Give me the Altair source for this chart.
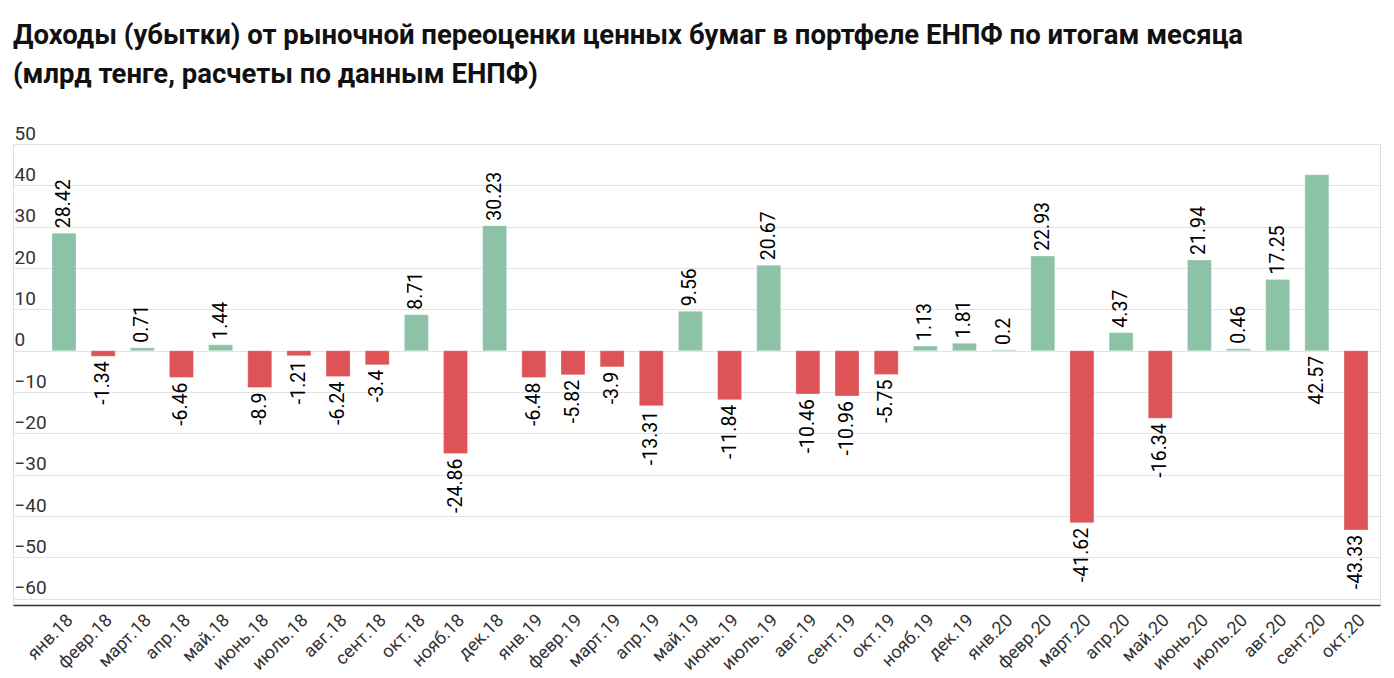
import altair as alt
import pandas as pd

months = ["янв.18", "февр.18", "март.18", "апр.18", "май.18", "июнь.18", "июль.18",
          "авг.18", "сент.18", "окт.18", "нояб.18", "дек.18",
          "янв.19", "февр.19", "март.19", "апр.19", "май.19", "июнь.19", "июль.19",
          "авг.19", "сент.19", "окт.19", "нояб.19", "дек.19",
          "янв.20", "февр.20", "март.20", "апр.20", "май.20", "июнь.20", "июль.20",
          "авг.20", "сент.20", "окт.20"]
values = [28.42, -1.34, 0.71, -6.46, 1.44, -8.9, -1.21, -6.24, -3.4, 8.71, -24.86, 30.23,
          -6.48, -5.82, -3.9, -13.31, 9.56, -11.84, 20.67, -10.46, -10.96, -5.75, 1.13, 1.81,
          0.2, 22.93, -41.62, 4.37, -16.34, 21.94, 0.46, 17.25, 42.57, -43.33]
y_ticks = [50, 40, 30, 20, 10, 0, -10, -20, -30, -40, -50, -60]

title_lines = ["Доходы (убытки) от рыночной переоценки ценных бумаг в портфеле ЕНПФ по итогам месяца",
               "(млрд тенге, расчеты по данным ЕНПФ)"]

GREEN = "#8cc3a7"
RED = "#dd5356"
Y_MAX = 50
Y_MIN = -61.5

df = pd.DataFrame({"month": months, "value": values})
df["label"] = [str(v) for v in values]
# labels that would not fit above the bar within the axis go below the baseline
fits_above = (df["value"] > 0) & (df["value"] + 12 <= Y_MAX)
df["side"] = ["up" if f else "down" for f in fits_above]
df["lab_y"] = [v if (v < 0 or f) else 0 for v, f in zip(df["value"], fits_above)]

x_enc = alt.X(
    "month:N", sort=months, title=None,
    scale=alt.Scale(paddingInner=0.387, paddingOuter=0.651, align=0.765),
    axis=alt.Axis(labelAngle=-45, labelAlign="right", labelBaseline="top",
                  labelPadding=6, labelFontSize=18, labelFont="Roboto",
                  labelColor="#333333", ticks=False, domainColor="#333333",
                  domainWidth=1.5, grid=False, labelLimit=200),
)
y_scale = alt.Scale(domain=[Y_MIN, Y_MAX], nice=False, zero=False)

bars = alt.Chart(df).mark_bar(stroke="#ffffff", strokeWidth=0.6, strokeOpacity=0.5).encode(
    x=x_enc,
    y=alt.Y("value:Q", scale=y_scale, title=None,
            axis=alt.Axis(values=y_ticks, grid=True, gridColor="#e3e3e3", gridWidth=1,
                          domain=False, ticks=False, tickSize=0, labelAlign="left",
                          labelBaseline="alphabetic", labelPadding=-1, labelOffset=-5,
                          labelFontSize=19, labelFont="Roboto", labelColor="#333333")),
    y2=alt.datum(0),
    color=alt.condition(alt.datum.value > 0, alt.value(GREEN), alt.value(RED)),
)

text_common = dict(angle=270, baseline="middle", font="Roboto", fontSize=19.5, color="#000000")

up_labels = alt.Chart(df).transform_filter(alt.datum.side == "up").mark_text(
    align="left", dx=5, **text_common
).encode(x=alt.X("month:N", sort=months), y=alt.Y("lab_y:Q", scale=y_scale), text="label:N")

down_labels = alt.Chart(df).transform_filter(alt.datum.side == "down").mark_text(
    align="right", dx=-5, **text_common
).encode(x=alt.X("month:N", sort=months), y=alt.Y("lab_y:Q", scale=y_scale), text="label:N")

chart = alt.layer(bars, up_labels, down_labels).properties(
    width=1367, height=461,
    autosize=alt.AutoSizeParams(type="none"),
    padding={"left": 5, "top": 136, "right": 6, "bottom": 70},
    title=alt.TitleParams(text=title_lines, anchor="start", frame="group", font="Roboto",
                          fontSize=27.5, fontWeight="bold", color="#111111",
                          lineHeight=39, offset=36),
).configure_view(stroke=None).configure(background="#ffffff")

chart.save("out.html", embed_options={"renderer": "svg", "actions": False})
